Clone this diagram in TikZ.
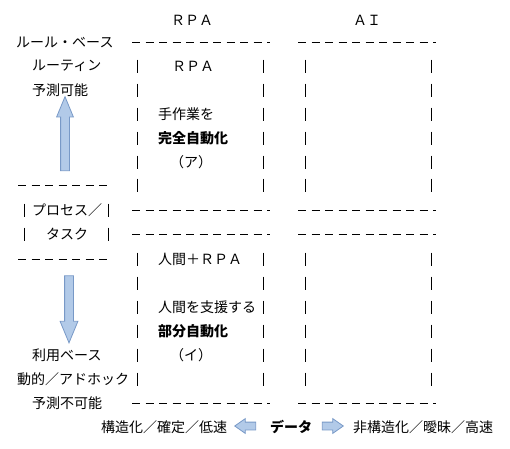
\documentclass[tikz,border=0pt]{standalone}
\usepackage{fontspec}
\setmainfont{Noto Sans CJK JP}
\usetikzlibrary{shapes.arrows}
\definecolor{arrowfill}{RGB}{178,202,232}
\definecolor{arrowline}{RGB}{120,153,199}
\tikzset{
  t/.style={anchor=west,inner sep=0pt,font=\fontsize{14}{16}\selectfont},
  tb/.style={t,font=\fontsize{14}{16}\selectfont\bfseries},
  dashline/.style={line width=1pt,dash pattern=on 8pt off 5.5pt},
  bar/.style={line width=0.9pt},
  blk/.style={single arrow,draw=arrowline,fill=arrowfill,line width=0.8pt,inner sep=4pt},
}
\begin{document}
\begin{tikzpicture}[x=1pt,y=-1pt]
\useasboundingbox (0,0) rectangle (510,448);
% column heads
\node[t,anchor=center] (hrpa) at (192,20) {ＲＰＡ};
\node[t,anchor=center] (hai) at (367,20) {ＡＩ};
% left column
\node[t] (rule) at (16,42) {ルール・ベース};
\node[t] (routine) at (32,66) {ルーティン};
\node[t] (pred) at (32,90) {予測可能};
\draw[dashline] (18,185) -- (112,185);
\node[t] (proc) at (32,210) {プロセス／};
\node[t] (task) at (46,234) {タスク};
\foreach \y in {210,234}{
  \draw[bar] (24,\y-6.5) -- (24,\y+6.5);
  \draw[bar] (108,\y-6.5) -- (108,\y+6.5);
}
\draw[dashline] (18,259) -- (112,259);
\node[t] (use) at (32,355) {利用ベース};
\node[t] (adhoc) at (17,379) {動的／アドホック};
\node[t] (unpred) at (32,403) {予測不可能};
% arrows
\node[blk,shape border rotate=90,minimum height=74pt,minimum width=16pt,
  single arrow head extend=4pt,single arrow tip angle=45] (up) at (65,139) {};
\node[blk,shape border rotate=270,minimum height=67pt,minimum width=17pt,
  single arrow head extend=4.5pt,single arrow tip angle=45] (down) at (69,304) {};
% boxes
\foreach \y in {42,210,234,403}{
  \draw[dashline] (132,\y) -- (270,\y);
  \draw[dashline] (298,\y) -- (436,\y);
}
\foreach \y in {66,90,114,138,162,185,259,283,307,331,355,379}
  \foreach \x in {137,263,305,431}
    \draw[bar] (\x,\y-6.5) -- (\x,\y+6.5);
% RPA box contents
\node[t] (rpa) at (172,66) {ＲＰＡ};
\node[t] (manual) at (158,114) {手作業を};
\node[tb] (full) at (158,138) {完全自動化};
\node[t] (a) at (170,162) {（ア）};
\node[t] (hrpa2) at (158,259) {人間＋ＲＰＡ};
\node[t] (support) at (158,307) {人間を支援する};
\node[tb] (part) at (158,331) {部分自動化};
\node[t] (i) at (170,355) {（イ）};
% data axis
\node[t] (struct) at (101,427) {構造化／確定／低速};
\node[blk,inner sep=3.5pt,shape border rotate=180,minimum height=21pt,minimum width=14pt,
  single arrow head extend=3.5pt,single arrow tip angle=70] (la) at (248,426) {};
\node[tb] (data) at (270,427) {データ};
\node[blk,inner sep=3.5pt,minimum height=21pt,minimum width=14pt,
  single arrow head extend=3.5pt,single arrow tip angle=70] (ra) at (330,426) {};
\node[t] (unstruct) at (353,427) {非構造化／曖昧／高速};
\end{tikzpicture}
\end{document}
